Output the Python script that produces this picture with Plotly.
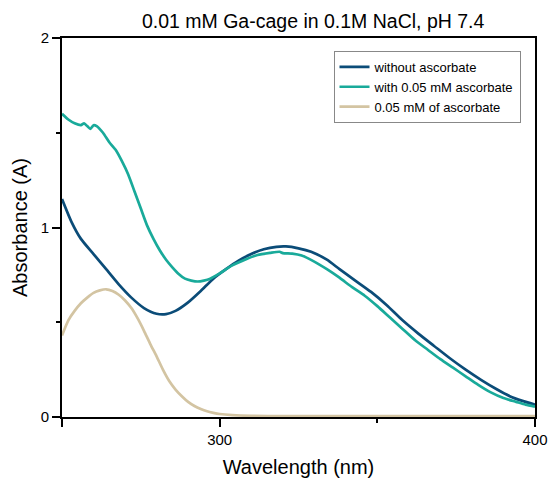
import plotly.graph_objects as go

# without ascorbate
wl_a = [250, 253, 256, 260, 264, 268, 272, 276, 280, 283, 286, 290, 294, 298, 302, 306, 310,
        314, 318, 321, 325, 329, 334, 338, 343, 348, 353, 358, 363, 368, 373, 378, 383, 388,
        392, 396, 400]
abs_a = [1.15, 1.03, 0.94, 0.86, 0.78, 0.70, 0.63, 0.575, 0.545, 0.543, 0.56, 0.605, 0.665,
         0.73, 0.78, 0.825, 0.86, 0.885, 0.898, 0.9, 0.89, 0.872, 0.83, 0.78, 0.72, 0.66,
         0.59, 0.51, 0.44, 0.375, 0.31, 0.25, 0.195, 0.145, 0.11, 0.085, 0.065]

# with 0.05 mM ascorbate
wl_b = [250, 252, 254, 256, 257, 258, 259, 260, 261, 263, 265, 267, 269, 271, 273, 275, 277,
        279, 281, 283, 285, 287, 289, 291, 293, 295, 297, 300, 304, 308, 312, 316, 319, 320,
        323, 326, 330, 334, 338, 342, 346, 350, 354, 358, 362, 366, 370, 374, 378, 382, 386,
        390, 394, 397, 400]
abs_b = [1.60, 1.57, 1.55, 1.54, 1.55, 1.535, 1.52, 1.54, 1.535, 1.50, 1.45, 1.41, 1.35, 1.28,
         1.19, 1.10, 1.01, 0.94, 0.88, 0.83, 0.79, 0.755, 0.73, 0.72, 0.715, 0.72, 0.73, 0.758,
         0.80, 0.83, 0.855, 0.866, 0.872, 0.865, 0.862, 0.852, 0.82, 0.78, 0.735, 0.685, 0.64,
         0.585, 0.525, 0.465, 0.405, 0.355, 0.305, 0.26, 0.215, 0.17, 0.13, 0.10, 0.08, 0.065,
         0.055]

# 0.05 mM of ascorbate
wl_c = [250, 252, 254, 256, 258, 260, 262, 264, 266, 268, 270, 272, 274, 276, 278, 280, 282,
        284, 286, 288, 290, 292, 294, 296, 298, 300, 304, 310, 320, 350, 400]
abs_c = [0.43, 0.51, 0.56, 0.60, 0.63, 0.655, 0.668, 0.674, 0.665, 0.645, 0.615, 0.575, 0.52,
         0.455, 0.385, 0.32, 0.25, 0.19, 0.145, 0.11, 0.08, 0.058, 0.042, 0.03, 0.022, 0.016,
         0.01, 0.006, 0.005, 0.005, 0.005]

names = ["without ascorbate", "with 0.05 mM ascorbate", "0.05 mM of ascorbate"]
colors = ["#0b4c78", "#19aa9a", "#d3c4a2"]

x_tickvals = [250, 300, 400]
x_ticktext = ["", "300", "400"]
y_tickvals = [0, 1, 2]
y_ticktext = ["0", "1", "2"]

FONT = "Liberation Sans, Arial, sans-serif"

fig = go.Figure()
for wl, ab, nm, col in zip([wl_a, wl_b, wl_c], [abs_a, abs_b, abs_c], names, colors):
    fig.add_trace(go.Scatter(x=wl, y=ab, mode="lines", name=nm,
                             line=dict(color=col, width=2.7, shape="spline", smoothing=0.6)))

fig.update_layout(
    width=549, height=478,
    margin=dict(l=62, r=14, t=38, b=61, autoexpand=False),
    paper_bgcolor="white", plot_bgcolor="white",
    font=dict(family=FONT, color="black"),
    title=dict(text="0.01 mM Ga-cage in 0.1M NaCl, pH 7.4", xref="paper", x=0.531,
               xanchor="center", yref="paper", y=1.0, yanchor="bottom",
               pad=dict(b=10),
               font=dict(size=19.5, family=FONT, color="black"), automargin=False),
    legend=dict(x=0.574, y=0.966, xanchor="left", yanchor="top",
                bordercolor="#888888", borderwidth=1, bgcolor="white",
                font=dict(size=13, family=FONT), tracegroupgap=0,
                itemwidth=30),
    showlegend=True,
)
fig.update_xaxes(
    range=[250, 400], tickmode="array", tickvals=x_tickvals, ticktext=x_ticktext,
    ticks="outside", ticklen=8, tickwidth=1.5, tickcolor="black",
    minor=dict(tickvals=[350], ticks="outside", ticklen=4, tickwidth=1.5, tickcolor="black"),
    showline=True, linecolor="black", linewidth=2, mirror=True,
    showgrid=False, zeroline=False, automargin=False,
    tickfont=dict(size=15, family=FONT),
    title=dict(text="Wavelength (nm)", font=dict(size=20, family=FONT), standoff=14),
)
fig.update_yaxes(
    range=[0, 2], tickmode="array", tickvals=y_tickvals, ticktext=y_ticktext,
    ticks="outside", ticklen=8, tickwidth=1.5, tickcolor="black",
    minor=dict(tickvals=[0.5, 1.5], ticks="outside", ticklen=4, tickwidth=1.5, tickcolor="black"),
    showline=True, linecolor="black", linewidth=2, mirror=True,
    showgrid=False, zeroline=False, automargin=False,
    tickfont=dict(size=15, family=FONT),
    title=dict(text="Absorbance (A)", font=dict(size=20, family=FONT), standoff=8),
)

fig.write_html("out.html")
